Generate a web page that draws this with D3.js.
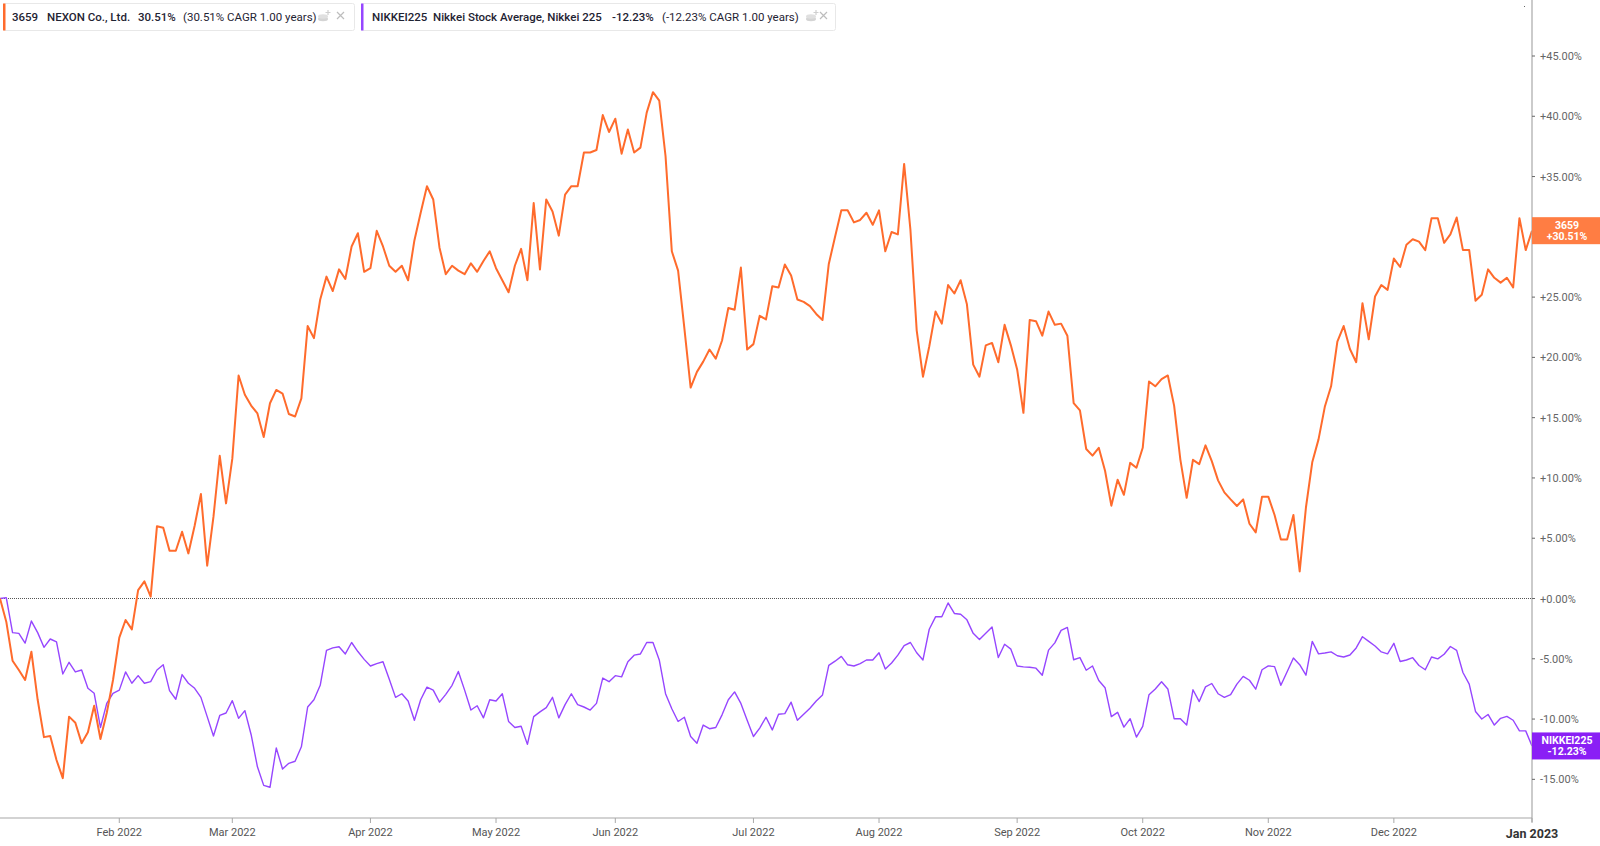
<!DOCTYPE html>
<html>
<head>
<meta charset="utf-8">
<script src="https://cdn.jsdelivr.net/npm/d3@7"></script>
<style>
  html, body { margin: 0; padding: 0; background: #fff; }
  svg { display: block; font-family: Roboto, "Noto Sans", sans-serif; }
</style>
</head>
<body>
<svg id="chart" width="1600" height="846"></svg>
<script>
// ---- Data (percent change vs. start, one value per trading day) ----
const nexon = [
  0, -1.92, -5.16, -5.93, -6.76, -4.41, -8.4, -11.5, -11.4, -13.4,
  -14.9, -9.8, -10.3, -12.0, -11.1, -8.9, -11.65, -9.5, -6.76, -3.25,
  -1.78, -2.56, 0.7, 1.42, 0.15, 6.0, 5.87, 3.96, 3.96, 5.54,
  3.74, 6.04, 8.67, 2.72, 6.79, 11.84, 7.89, 11.6, 18.5, 16.9,
  16.0, 15.35, 13.4, 16.2, 17.3, 17.0, 15.3, 15.1, 16.6, 22.6,
  21.6, 24.8, 26.7, 25.5, 27.3, 26.5, 29.2, 30.3, 27.1, 27.4,
  30.5, 29.2, 27.6, 27.1, 27.6, 26.4, 29.7, 32.0, 34.2, 33.1,
  29.1, 26.9, 27.6, 27.2, 26.9, 27.8, 27.1, 28.0, 28.8, 27.4,
  26.4, 25.4, 27.6, 29.0, 26.4, 32.8, 27.3, 33.1, 32.1, 30.1,
  33.5, 34.2, 34.2, 37.0, 37.0, 37.2, 40.1, 38.7, 39.8, 36.9,
  38.9, 37.0, 37.4, 40.3, 42.0, 41.3, 36.7, 28.8, 27.2, 22.4,
  17.5, 18.8, 19.65, 20.65, 19.9, 21.4, 24.1, 23.95, 27.45, 20.65,
  21.1, 23.45, 23.15, 25.9, 25.8, 27.7, 26.8, 24.8, 24.6, 24.25,
  23.6, 23.1, 27.75, 30.0, 32.2, 32.2, 31.2, 31.4, 32.0, 31.0,
  32.2, 28.8, 30.4, 30.2, 36.05, 30.6, 22.25, 18.4, 20.9, 23.8,
  22.8, 26.0, 25.3, 26.4, 24.4, 19.4, 18.4, 21.0, 21.2, 19.6,
  22.7, 21.0, 19.0, 15.4, 23.1, 23.0, 21.8, 23.8, 22.7, 22.8,
  21.8, 16.2, 15.6, 12.4, 11.85, 12.5, 10.6, 7.7, 9.85, 8.6,
  11.25, 10.85, 12.5, 18.0, 17.6, 18.2, 18.5, 16.0, 11.5, 8.35,
  11.5, 11.15, 12.7, 11.4, 9.8, 8.8, 8.22, 7.67, 8.22, 6.2,
  5.48, 8.45, 8.45, 6.93, 4.9, 4.9, 6.93, 2.25, 7.57, 11.3,
  13.2, 15.9, 17.6, 21.3, 22.6, 20.7, 19.6, 24.5, 21.5, 25.05,
  26.0, 25.6, 28.2, 27.5, 29.35, 29.8, 29.6, 28.9, 31.55, 31.55,
  29.5, 30.2, 31.6, 28.9, 28.9, 24.7, 25.2, 27.3, 26.6, 26.2,
  26.6, 25.8, 31.55, 28.9, 30.51
];
const nikkei = [
  0, 0.07, -2.83, -2.89, -3.7, -1.87, -2.83, -4.05, -3.36, -3.6,
  -6.26, -5.29, -6.09, -5.93, -7.45, -7.86, -10.7, -8.7, -7.86, -7.6,
  -6.09, -7.03, -6.4, -7.03, -6.9, -5.93, -5.5, -7.64, -8.36, -6.31,
  -7.03, -7.45, -8.2, -9.8, -11.4, -9.7, -9.5, -8.47, -9.94, -9.3,
  -11.3, -13.96, -15.5, -15.66, -12.4, -14.14, -13.67, -13.5, -12.3, -9.0,
  -8.4, -7.2, -4.3, -4.1, -4.0, -4.6, -3.65, -4.4, -5.05, -5.6,
  -5.4, -5.25, -6.7, -8.2, -7.9, -8.5, -10.1, -8.4, -7.35, -7.6,
  -8.6, -7.95, -7.2, -6.05, -7.6, -9.25, -8.9, -9.9, -8.4, -8.5,
  -7.9, -10.2, -10.7, -10.6, -12.1, -9.8, -9.4, -9.05, -8.2, -9.9,
  -8.8, -7.9, -8.8, -9.0, -9.25, -8.7, -6.6, -6.9, -6.4, -6.5,
  -5.25, -4.7, -4.6, -3.65, -3.65, -5.1, -7.9, -9.15, -10.2, -9.85,
  -11.45, -12.0, -10.5, -10.8, -10.7, -9.65, -8.4, -7.75, -8.7, -10.1,
  -11.45, -10.75, -9.85, -10.9, -9.6, -9.55, -8.6, -10.1, -9.6, -9.1,
  -8.5, -8.0, -5.55, -5.2, -4.8, -5.5, -5.6, -5.4, -5.1, -5.1,
  -4.5, -5.85, -5.35, -4.7, -3.9, -3.65, -4.5, -5.1, -2.55, -1.52,
  -1.52, -0.37, -1.24, -1.31, -1.77, -2.89, -3.41, -2.89, -2.36, -4.9,
  -3.8, -4.2, -5.6, -5.67, -5.7, -5.78, -6.37, -4.28, -3.68, -2.64,
  -2.4, -5.08, -4.9, -5.95, -5.6, -6.8, -7.4, -9.8, -9.44, -10.67,
  -9.97, -11.5, -10.6, -7.98, -7.5, -6.9, -7.5, -9.97, -9.97, -10.5,
  -7.57, -8.55, -7.33, -7.05, -7.9, -8.2, -7.97, -7.1, -6.46, -6.78,
  -7.52, -5.91, -5.59, -5.65, -7.2, -6.07, -4.94, -5.49, -6.36, -3.56,
  -4.59, -4.52, -4.43, -4.75, -4.85, -4.69, -4.1, -3.17, -3.56, -3.94,
  -4.43, -4.59, -3.72, -5.23, -5.1, -4.91, -5.56, -5.91, -4.85, -5.01,
  -4.62, -3.98, -4.3, -6.14, -7.1, -9.37, -10.0, -9.62, -10.5, -9.94,
  -9.78, -10.1, -10.98, -10.98, -12.23
];
// trading-day index of the first session of each month
const xTickIndex  = [19, 37, 59, 79, 98, 120, 140, 162, 182, 202, 222, 244];
const xTickLabels = ["Feb 2022","Mar 2022","Apr 2022","May 2022","Jun 2022","Jul 2022",
                     "Aug 2022","Sep 2022","Oct 2022","Nov 2022","Dec 2022","Jan 2023"];
const yTicks = [-15, -10, -5, 0, 5, 10, 15, 20, 25, 30, 35, 40, 45];
const seriesInfo = [
  { code: "3659", name: "NEXON Co., Ltd.", ret: "30.51%", cagr: "(30.51% CAGR 1.00 years)", last: "+30.51%" },
  { code: "NIKKEI225", name: "Nikkei Stock Average, Nikkei 225", ret: "-12.23%", cagr: "(-12.23% CAGR 1.00 years)", last: "-12.23%" }
];

// ---- Layout ----
const svg = d3.select("#chart");
const axisX = 1532;      // right value axis
const axisY = 818;       // bottom time axis
const ORANGE = "#ff6b2c", ORANGE_BOX = "#ff7d43";
const PURPLE = "#9646ff", PURPLE_BOX = "#8a1ff5";

const x = d3.scaleLinear().domain([0, 244]).range([0, axisX]);
const y = d3.scaleLinear().domain([0, 45]).range([598.5, 56]);

// zero reference line (dotted)
svg.append("line")
  .attr("x1", 0).attr("x2", axisX).attr("y1", y(0)).attr("y2", y(0))
  .attr("stroke", "#555").attr("stroke-width", 1).attr("stroke-dasharray", "1,1");

// lines
const line = d3.line().x((d, i) => x(i)).y(d => y(d));
const plot = svg.append("g");
plot.append("path").datum(nikkei)
  .attr("d", line).attr("fill", "none").attr("stroke", PURPLE)
  .attr("stroke-width", 1.4).attr("stroke-linejoin", "round");
plot.append("path").datum(nexon)
  .attr("d", line).attr("fill", "none").attr("stroke", ORANGE)
  .attr("stroke-width", 2).attr("stroke-linejoin", "round");

// bottom axis
const gx = svg.append("g");
gx.append("line").attr("x1", 0).attr("x2", axisX).attr("y1", axisY).attr("y2", axisY)
  .attr("stroke", "#a8a8a8").attr("stroke-width", 1.2);
xTickIndex.forEach((ti, k) => {
  const xx = x(ti);
  const last = k === xTickIndex.length - 1;
  gx.append("line").attr("x1", xx).attr("x2", xx).attr("y1", axisY).attr("y2", axisY + 5)
    .attr("stroke", "#a8a8a8").attr("stroke-width", 1);
  gx.append("text").attr("x", xx).attr("y", last ? 838 : 836)
    .attr("text-anchor", "middle")
    .attr("font-size", last ? 12.5 : 11)
    .attr("font-weight", last ? 700 : 400)
    .attr("fill", last ? "#333" : "#555")
    .text(xTickLabels[k]);
});

// right axis
const lastVals = [nexon[nexon.length - 1], nikkei[nikkei.length - 1]];
const gy = svg.append("g");
gy.append("line").attr("x1", axisX).attr("x2", axisX).attr("y1", 0).attr("y2", 822)
  .attr("stroke", "#a8a8a8").attr("stroke-width", 1.2);
const fmt = v => (v >= 0 ? "+" : "") + v.toFixed(2) + "%";
yTicks.forEach(v => {
  gy.append("line").attr("x1", axisX).attr("x2", axisX + 3).attr("y1", y(v)).attr("y2", y(v))
    .attr("stroke", "#666").attr("stroke-width", 1);
  // labels hidden underneath a last-value box are not drawn
  const covered = lastVals.some(lv => Math.abs(y(lv) - y(v)) < 18);
  if (!covered) {
    gy.append("text").attr("x", axisX + 8).attr("y", y(v) + 4)
      .attr("font-size", 11).attr("fill", "#666").text(fmt(v));
  }
});
// tiny marker near top of axis
svg.append("rect").attr("x", 1524).attr("y", 6).attr("width", 1).attr("height", 1).attr("fill", "#666");

// last value boxes
function valueBox(val, color, l1, l2) {
  const cy = y(val);
  const g = svg.append("g");
  g.append("rect").attr("x", axisX).attr("y", cy - 13.5).attr("width", 1600 - axisX).attr("height", 27)
    .attr("fill", color);
  g.append("text").attr("x", 1567).attr("y", cy - 2).attr("text-anchor", "middle")
    .attr("font-size", 10.5).attr("font-weight", 700).attr("fill", "#fff").text(l1);
  g.append("text").attr("x", 1567).attr("y", cy + 9).attr("text-anchor", "middle")
    .attr("font-size", 10.5).attr("font-weight", 700).attr("fill", "#fff").text(l2);
}
valueBox(lastVals[0], ORANGE_BOX, seriesInfo[0].code, seriesInfo[0].last);
valueBox(lastVals[1], PURPLE_BOX, seriesInfo[1].code, seriesInfo[1].last);

// legend chips
function chip(x0, x1, color, info, pos) {
  const g = svg.append("g");
  g.append("rect").attr("x", x0 + 0.5).attr("y", 3.5).attr("width", x1 - x0).attr("height", 27)
    .attr("rx", 2).attr("fill", "#fff").attr("stroke", "#e8e8e8");
  g.append("rect").attr("x", x0).attr("y", 3.5).attr("width", 2.5).attr("height", 27).attr("fill", color);
  const t = (xx, s, w) => g.append("text").attr("x", xx).attr("y", 20.5)
    .attr("font-size", 11.5).attr("font-weight", w).attr("fill", "#1f2433").text(s);
  t(pos[0], info.code, 500);
  t(pos[1], info.name, 500);
  t(pos[2], info.ret, 500);
  t(pos[3], info.cagr, 400);
  // small add-to icon
  const ix = pos[4];
  g.append("ellipse").attr("cx", ix + 5).attr("cy", 19).attr("rx", 5).attr("ry", 2.2).attr("fill", "#d4d4d4");
  g.append("ellipse").attr("cx", ix + 5).attr("cy", 16.5).attr("rx", 5).attr("ry", 2.2).attr("fill", "#e0e0e0");
  g.append("path").attr("d", `M${ix + 10},10 v5 M${ix + 7.5},12.5 h5`).attr("stroke", "#cfcfcf").attr("stroke-width", 1.2);
  // close cross
  const cx = pos[5];
  g.append("path").attr("d", `M${cx},12 l7,7 M${cx + 7},12 l-7,7`).attr("stroke", "#bdbdbd").attr("stroke-width", 1.2);
}
chip(3, 354, ORANGE, seriesInfo[0], [12, 47, 138, 183, 318, 337]);
chip(361, 835, PURPLE, seriesInfo[1], [372, 433, 612, 662, 806, 820]);
</script>
</body>
</html>
